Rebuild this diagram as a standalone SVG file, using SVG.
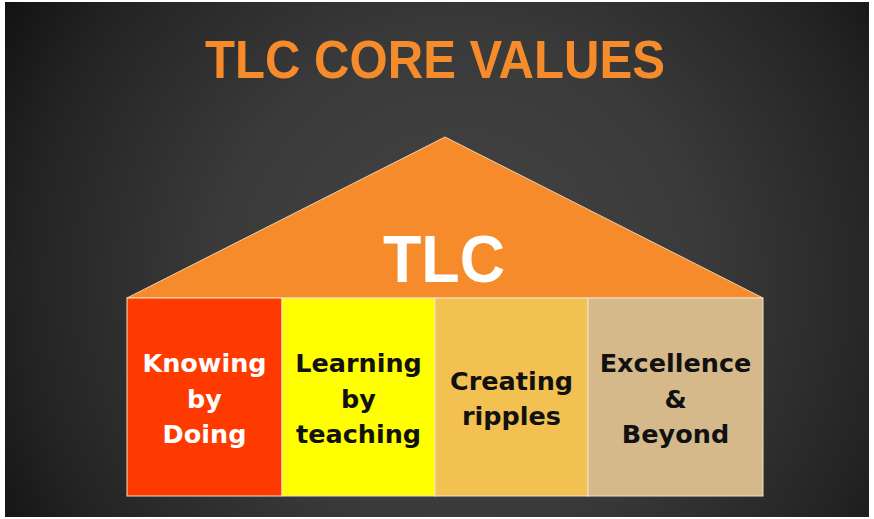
<svg xmlns="http://www.w3.org/2000/svg" width="874" height="519" viewBox="0 0 874 519">
  <defs>
    <radialGradient id="bg" gradientUnits="userSpaceOnUse" cx="460" cy="280" r="540">
      <stop offset="0" stop-color="#454545"/>
      <stop offset="0.45" stop-color="#3a3a3a"/>
      <stop offset="0.8" stop-color="#242424"/>
      <stop offset="1" stop-color="#111111"/>
    </radialGradient>
  </defs>
  <style>
    .box { stroke: #f3e3c6; stroke-width: 1; }
    .lbl { font-family: "DejaVu Sans", "Liberation Sans", sans-serif; font-weight: bold; font-size: 25.5px; text-anchor: middle; }
    .dark { fill: #111111; }
    .light { fill: #ffffff; }
  </style>
  <rect x="0" y="0" width="874" height="519" fill="#ffffff"/>
  <rect x="5" y="2" width="864" height="515" fill="url(#bg)"/>

  <g id="title">
    <text x="435" y="78" font-family="'Liberation Sans', Arial, sans-serif" font-weight="bold" font-size="53" fill="#f68b2c" text-anchor="middle" textLength="460" lengthAdjust="spacingAndGlyphs">TLC CORE VALUES</text>
  </g>

  <g id="roof">
    <polygon points="127,298 445,137 763,298" fill="#f68b2c" stroke="#f1cfa8" stroke-width="1"/>
    <text x="444" y="282" font-family="'Liberation Sans', Arial, sans-serif" font-weight="bold" font-size="66" fill="#ffffff" text-anchor="middle" textLength="122" lengthAdjust="spacingAndGlyphs">TLC</text>
  </g>

  <g id="knowing">
    <rect class="box" x="127" y="298" width="155" height="198" fill="#ff3a00"/>
    <text class="lbl light" x="204.5" y="372">Knowing</text>
    <text class="lbl light" x="204.5" y="408">by</text>
    <text class="lbl light" x="204.5" y="443">Doing</text>
  </g>

  <g id="learning">
    <rect class="box" x="282" y="298" width="153" height="198" fill="#ffff00"/>
    <text class="lbl dark" x="358.5" y="372">Learning</text>
    <text class="lbl dark" x="358.5" y="408">by</text>
    <text class="lbl dark" x="358.5" y="443">teaching</text>
  </g>

  <g id="creating">
    <rect class="box" x="435" y="298" width="153" height="198" fill="#f2c152"/>
    <text class="lbl dark" x="511.5" y="390">Creating</text>
    <text class="lbl dark" x="511.5" y="425">ripples</text>
  </g>

  <g id="excellence">
    <rect class="box" x="588" y="298" width="175" height="198" fill="#d5b98b"/>
    <text class="lbl dark" x="675.5" y="372">Excellence</text>
    <text class="lbl dark" x="675.5" y="408">&amp;</text>
    <text class="lbl dark" x="675.5" y="443">Beyond</text>
  </g>
</svg>
